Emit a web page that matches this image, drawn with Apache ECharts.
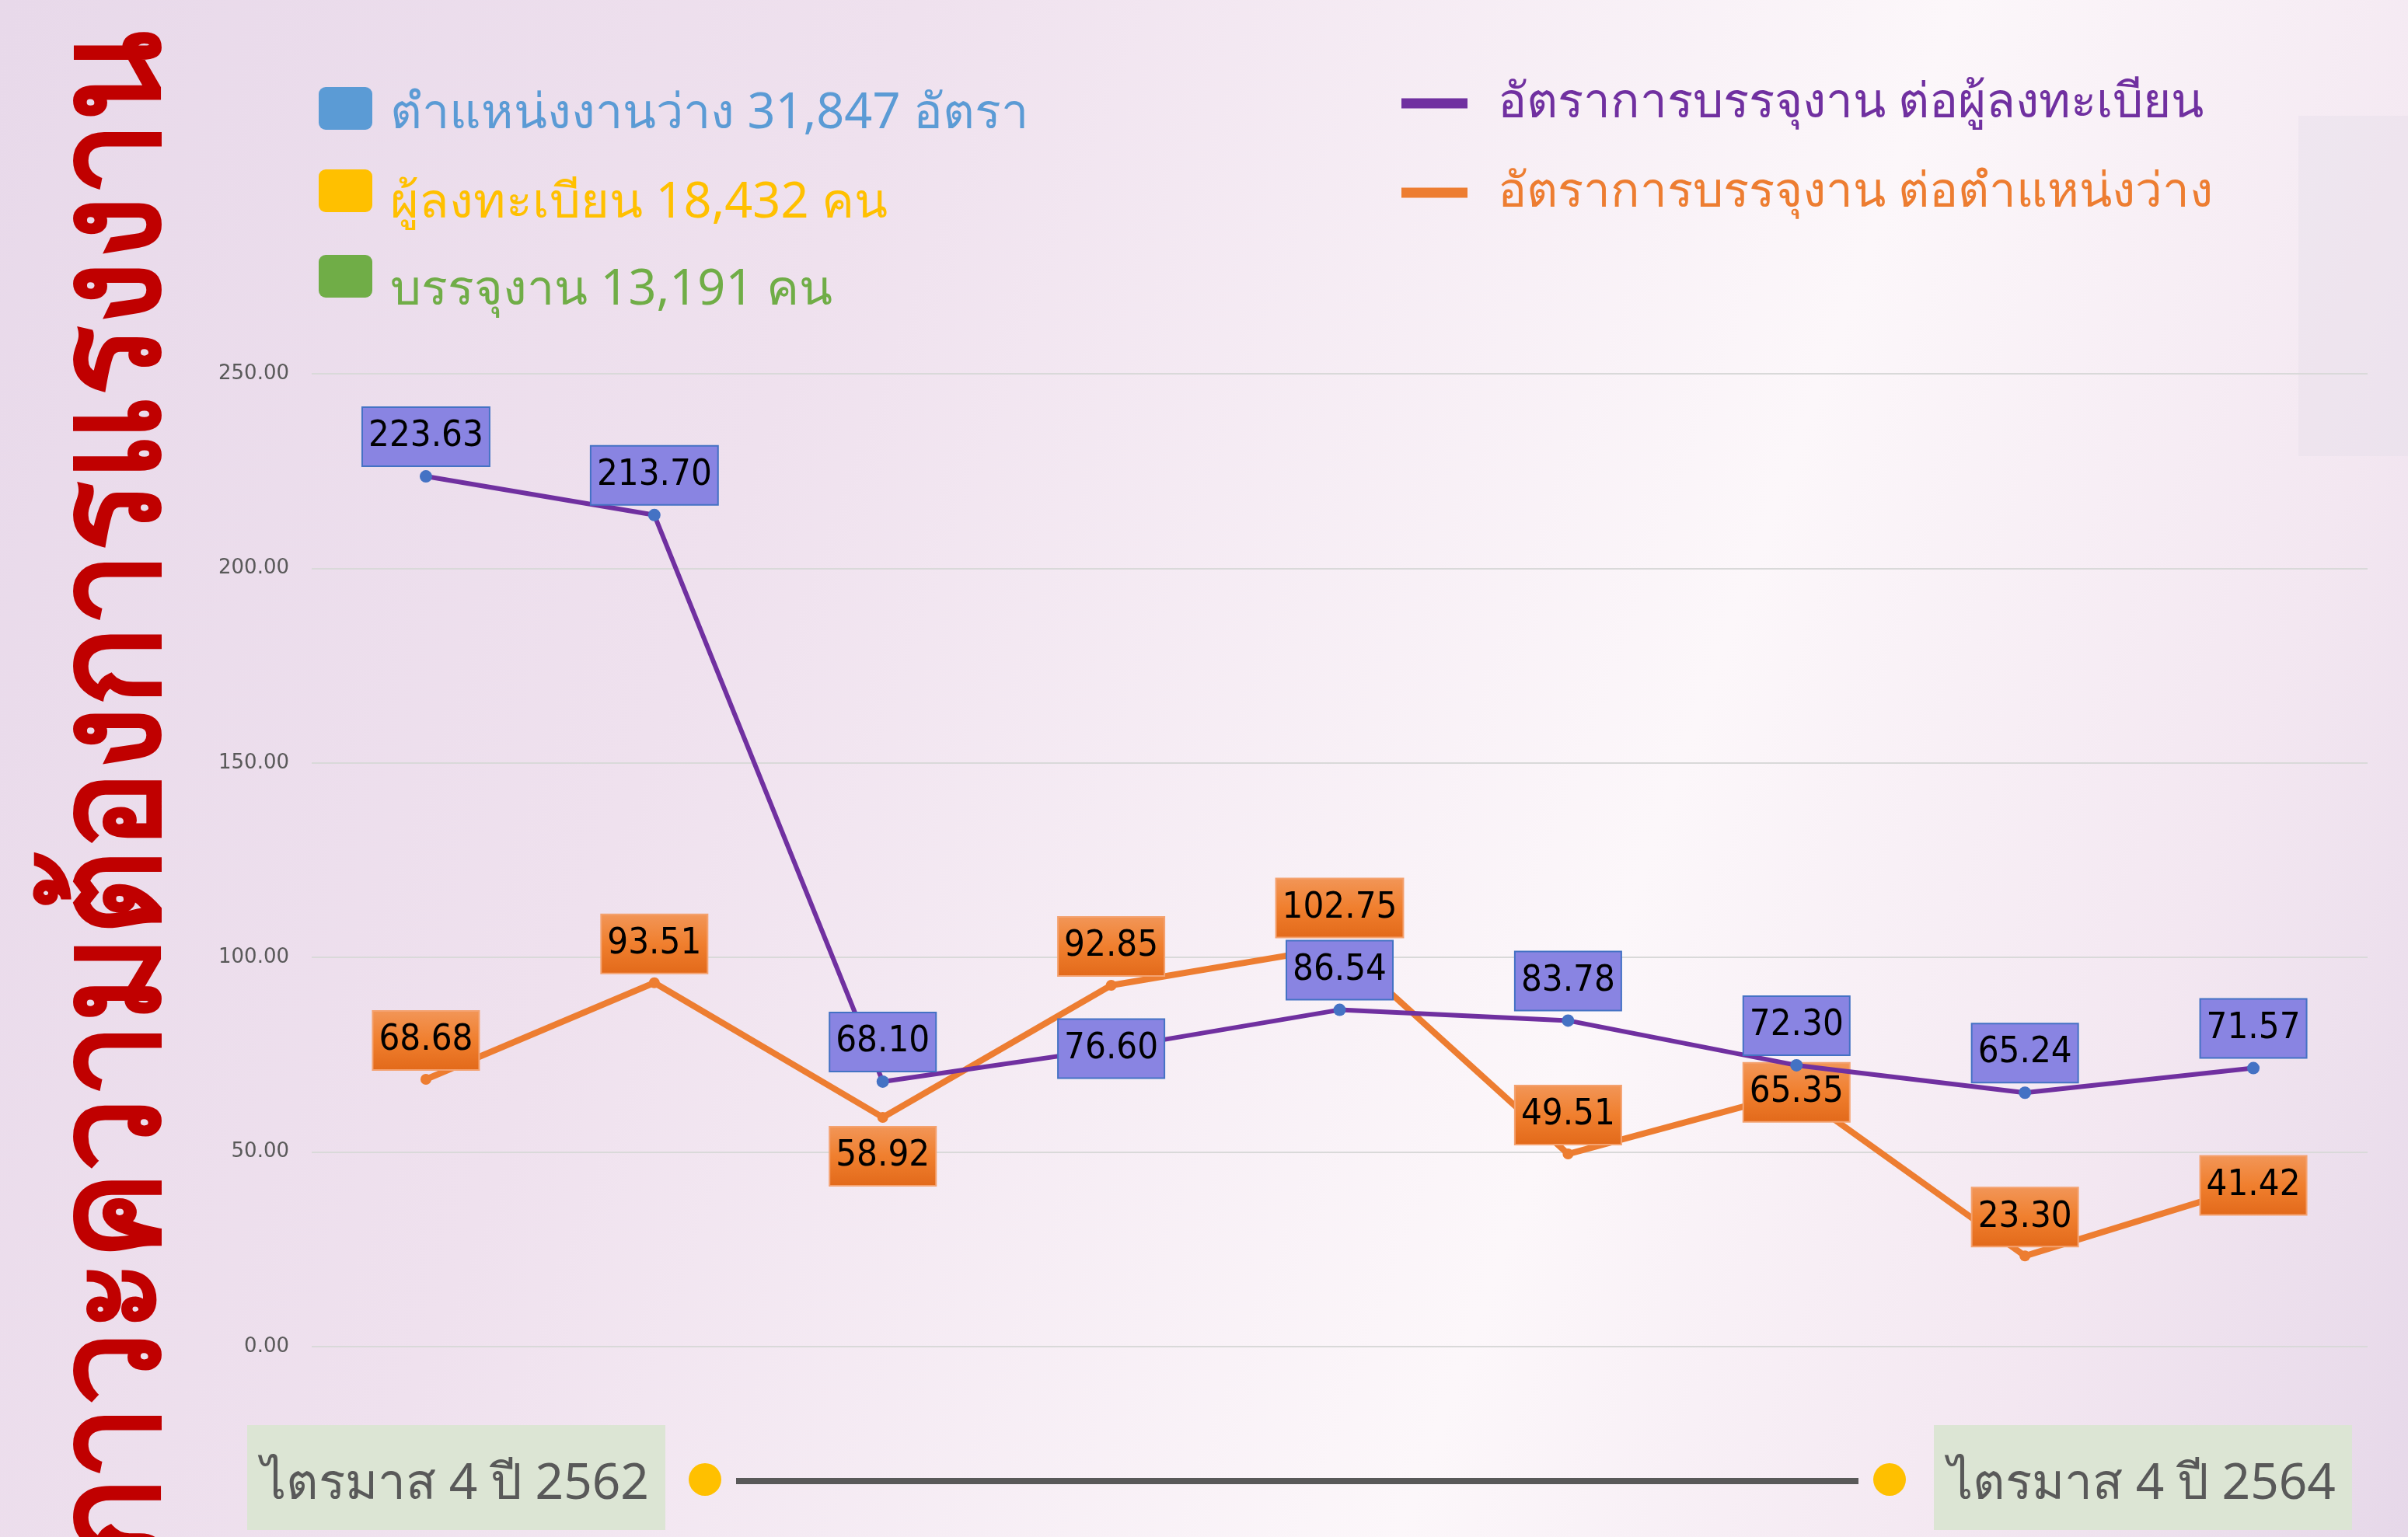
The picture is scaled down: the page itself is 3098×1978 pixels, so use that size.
<!DOCTYPE html>
<html>
<head>
<meta charset="utf-8">
<title>ภาวะความต้องการแรงงาน</title>
<script src="https://cdn.jsdelivr.net/npm/echarts@6/dist/echarts.min.js"></script>
<style>
  html, body { margin: 0; padding: 0; }
  #chart { width: 3098px; height: 1978px; }
</style>
</head>
<body>
<div id="chart"></div>
<script>
// ไตรมาส 4/2562 ถึง ไตรมาส 4/2564
const quarters = ['4/62', '1/63', '2/63', '3/63', '4/63', '1/64', '2/64', '3/64', '4/64'];
// อัตราการบรรจุงาน ต่อผู้ลงทะเบียน
const perRegistrant = [223.63, 213.70, 68.10, 76.60, 86.54, 83.78, 72.30, 65.24, 71.57];
// อัตราการบรรจุงาน ต่อตำแหน่งว่าง
const perVacancy = [68.68, 93.51, 58.92, 92.85, 102.75, 49.51, 65.35, 23.30, 41.42];
const seriesNames = ['อัตราการบรรจุงาน ต่อผู้ลงทะเบียน', 'อัตราการบรรจุงาน ต่อตำแหน่งว่าง'];
const summaryTexts = ['ตำแหน่งงานว่าง 31,847 อัตรา', 'ผู้ลงทะเบียน 18,432 คน', 'บรรจุงาน 13,191 คน'];
const periodTexts = ['ไตรมาส 4 ปี 2562', 'ไตรมาส 4 ปี 2564'];
const yTicks = { min: 0, max: 250, interval: 50 };
const titleText = 'ภาวะความต้องการแรงงาน';

const thaiFont = '"Noto Sans", "DejaVu Sans", sans-serif';
const numFont = '"DejaVu Sans Condensed", "Liberation Sans", sans-serif';

// where each value label sits relative to its point
const purpleLabelPos = ['top', 'top', 'top', 'inside', 'top', 'top', 'top', 'top', 'top'];
const orangeLabelPos = ['top', 'top', 'bottom', 'top', 'top', 'top', 'inside', 'top', 'inside'];

const summaryColors = ['#5B9BD5', '#FFC000', '#70AD47'];

const chart = echarts.init(document.getElementById('chart'));

const orangeBox = new echarts.graphic.LinearGradient(0, 0, 0, 1, [
  { offset: 0, color: '#F29658' },
  { offset: 0.5, color: '#F07F2E' },
  { offset: 1, color: '#E2691A' }
]);

function labelFor(pos, bg, border) {
  return {
    show: true,
    position: pos,
    distance: 6,
    formatter: p => p.value.toFixed(2),
    color: '#000',
    fontSize: 47,
    lineHeight: 56,
    fontFamily: numFont,
    backgroundColor: bg,
    borderColor: border,
    borderWidth: 2,
    padding: [9, 7]
  };
}

const graphics = [];
// soft background
graphics.push({
  type: 'rect', z: -10, silent: true,
  shape: { x: 0, y: 0, width: 3098, height: 1978 },
  style: {
    fill: new echarts.graphic.LinearGradient(0, 0, 3372, 1227, [
      { offset: 0, color: '#E8D9EA' },
      { offset: 0.31, color: '#EFE1EE' },
      { offset: 0.66, color: '#FCF7FA' },
      { offset: 0.85, color: '#F3E7F1' },
      { offset: 1, color: '#E6D8E9' }
    ], true)
  }
});
graphics.push({
  type: 'rect', z: -9, silent: true,
  shape: { x: 2957, y: 149, width: 141, height: 438 },
  style: { fill: 'rgba(225,222,232,0.35)' }
});

// vertical title
graphics.push({
  type: 'text', silent: true,
  x: 150, y: 40, rotation: Math.PI / 2, scaleX: 0.895,
  style: {
    text: titleText,
    fill: '#C00000',
    font: 'bold 190px ' + thaiFont,
    align: 'right',
    verticalAlign: 'middle'
  }
});

// summary boxes at top left
const summaryRows = [140, 246, 356];
const summaryTextY = [147, 262, 374];
summaryTexts.forEach((t, i) => {
  graphics.push({
    type: 'rect', silent: true,
    shape: { x: 410, y: summaryRows[i] - 28, width: 69, height: 55, r: 9 },
    style: { fill: summaryColors[i] }
  });
  graphics.push({
    type: 'text', silent: true,
    x: 502, y: summaryTextY[i],
    style: {
      text: t, fill: summaryColors[i],
      font: '63px ' + thaiFont,
      align: 'left', verticalAlign: 'middle'
    }
  });
});

// period timeline at the bottom
const boxX = [318, 2488];
periodTexts.forEach((t, i) => {
  graphics.push({
    type: 'rect', silent: true,
    shape: { x: boxX[i], y: 1834, width: 538, height: 135 },
    style: { fill: '#DCE5D4' }
  });
  graphics.push({
    type: 'text', silent: true,
    x: boxX[i] + 18, y: 1911,
    style: {
      text: t, fill: '#595959',
      font: '64px ' + thaiFont,
      align: 'left', verticalAlign: 'middle'
    }
  });
});
graphics.push({
  type: 'line', silent: true,
  shape: { x1: 947, y1: 1906, x2: 2391, y2: 1906 },
  style: { stroke: '#595959', lineWidth: 8 }
});
[907, 2431].forEach(cx => {
  graphics.push({
    type: 'circle', silent: true,
    shape: { cx: cx, cy: 1904, r: 21 },
    style: { fill: '#FFC000' }
  });
});

const option = {
  animation: false,
  graphic: graphics,
  legend: {
    orient: 'vertical',
    left: 1798,
    top: 93,
    itemWidth: 85,
    itemHeight: 13,
    itemGap: 45,
    icon: 'rect',
    textStyle: { fontSize: 62, lineHeight: 70, fontFamily: thaiFont, padding: [0, 0, 0, 34] },
    data: [
      { name: seriesNames[0], itemStyle: { color: '#7030A0' }, textStyle: { color: '#7030A0' } },
      { name: seriesNames[1], itemStyle: { color: '#ED7D31' }, textStyle: { color: '#ED7D31' } }
    ]
  },
  grid: { left: 401, right: 52, top: 481, bottom: 245 },
  xAxis: {
    type: 'category',
    data: quarters,
    axisLine: { show: false },
    axisTick: { show: false },
    axisLabel: { show: false }
  },
  yAxis: {
    type: 'value',
    min: yTicks.min,
    max: yTicks.max,
    interval: yTicks.interval,
    axisLabel: {
      formatter: v => v.toFixed(2),
      fontSize: 26,
      color: '#595959',
      fontFamily: '"DejaVu Sans", sans-serif',
      margin: 29
    },
    splitLine: { lineStyle: { color: '#D9D9D9', width: 2 } }
  },
  series: [
    {
      name: seriesNames[0],
      type: 'line',
      color: '#7030A0',
      data: perRegistrant.map((v, i) => ({ value: v, label: labelFor(purpleLabelPos[i], '#8984E2', '#4472C4') })),
      symbol: 'circle',
      symbolSize: 16,
      lineStyle: { color: '#7030A0', width: 6 },
      itemStyle: { color: '#4472C4' },
      z: 3
    },
    {
      name: seriesNames[1],
      type: 'line',
      color: '#ED7D31',
      data: perVacancy.map((v, i) => ({ value: v, label: labelFor(orangeLabelPos[i], orangeBox, '#F4A270') })),
      symbol: 'circle',
      symbolSize: 14,
      lineStyle: { color: '#ED7D31', width: 8 },
      itemStyle: { color: '#ED7D31' },
      z: 2
    }
  ]
};

chart.setOption(option);
</script>
</body>
</html>
